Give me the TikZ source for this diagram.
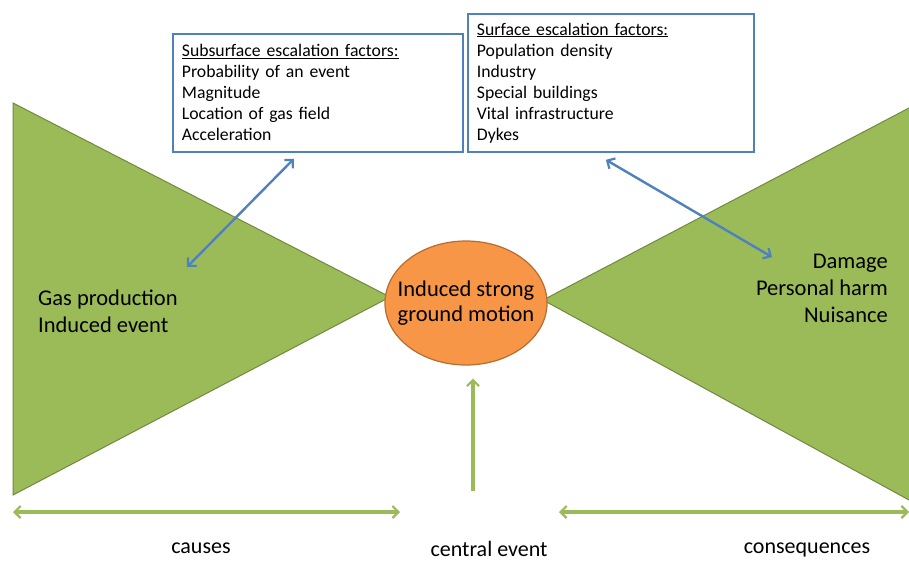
\documentclass[tikz,border=0pt]{standalone}
\usepackage{fontspec}
\setmainfont{Carlito}
\usetikzlibrary{arrows.meta, shapes.geometric}
\definecolor{bowGreen}{HTML}{9BBB59}
\definecolor{bowGreenDark}{HTML}{71893F}
\definecolor{factorBlue}{HTML}{4F81BD}
\definecolor{eventOrange}{HTML}{F79646}
\definecolor{eventOrangeDark}{HTML}{B66D31}

\begin{document}
\begin{tikzpicture}[
            x=1pt, y=-1pt,
            >={Straight Barb[length=6pt,width=12pt,line width=2.2pt]},
                big/.style = {font=\fontsize{22.5}{27}\selectfont, inner sep=0pt},
                label/.style = {font=\fontsize{22}{27}\selectfont, inner sep=0pt},
                factorBox/.style = {rectangle, draw=factorBlue, line width=1.8pt,
                            fill=white, font=\fontsize{17.7}{21}\selectfont,
                            align=left, text width=268pt, inner xsep=9pt,
                            anchor=north west},
                wing/.style = {fill=bowGreen, draw=bowGreenDark, line width=1pt},
                centralEvent/.style = {ellipse, fill=eventOrange, draw=eventOrangeDark,
                            line width=1.2pt, inner xsep=-11pt, inner ysep=18pt,
                            minimum width=162pt, minimum height=124pt,
                            align=center, font=\fontsize{22.5}{25.5}\selectfont},
                blueLink/.style = {draw=factorBlue, line width=2.4pt, <->},
                greenLink/.style = {draw=bowGreen, line width=3.5pt}]
            \useasboundingbox (0,0) rectangle (909,560);
            % bow tie
            \coordinate (causeTop) at (13,103);
            \coordinate (causeBottom) at (13,495);
            \coordinate (causeTip) at (390,297);
            \coordinate (consTop) at (909,108);
            \coordinate (consBottom) at (909,500);
            \coordinate (consTip) at (543,300);
            \draw[wing] (causeTop) -- (causeBottom) -- (causeTip) -- cycle;
            \draw[wing] (consTop) -- (consTip) -- (consBottom);
            \node (motion) [centralEvent] at (466,303) {
                Induced strong \\
                ground motion
            };
            \node (causes) [big, anchor=west, align=left] at (38,311) {
                Gas production \\
                Induced event
            };
            \node (effects) [big, anchor=east, align=right] at (888,288) {
                Damage \\
                Personal harm \\
                Nuisance
            };
            % escalation factors
            \node (sub) [factorBox, minimum height=118pt, text width=272pt] at (172,33) {
                \underline{Subsurface escalation factors:} \\
                Probability of an event \\
                Magnitude \\
                Location of gas field \\
                Acceleration
            };
            \node (surf) [factorBox, minimum height=138pt] at (467,13) {
                \underline{Surface escalation factors:} \\
                Population density \\
                Industry \\
                Special buildings \\
                Vital infrastructure \\
                Dykes
            };
            \coordinate (subEnd) at (187,267);
            \coordinate (surfEnd) at (772,257);
            \draw[blueLink] ([shift={(-24,6)}]sub.south) -- (subEnd);
            \draw[blueLink] ([shift={(-5,7)}]surf.south) -- (surfEnd);
            % bottom scale
            \coordinate (causesLeft) at (13,512);
            \coordinate (causesRight) at (400,512);
            \coordinate (consLeft) at (559,512);
            \coordinate (consRight) at (909,512);
            \coordinate (stemFoot) at (473,491);
            \draw[greenLink, <->] (causesLeft) -- (causesRight);
            \draw[greenLink, <->] (consLeft) -- (consRight);
            \draw[greenLink, ->, shorten >=13pt] (stemFoot) -- (stemFoot |- motion.south);
            \node (causesLbl) [label, anchor=base] at (201,553) {causes};
            \node (centralLbl) [label, anchor=base] at (489,556) {central event};
            \node (consLbl) [label, anchor=base] at (807,553) {consequences};
        \end{tikzpicture}
\end{document}
